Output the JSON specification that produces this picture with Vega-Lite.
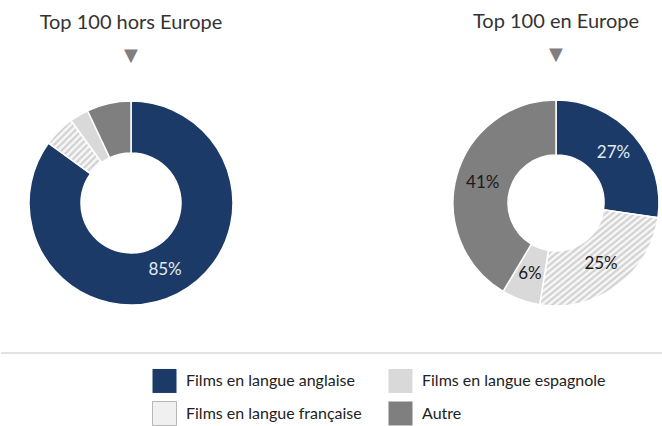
{
  "$schema": "https://vega.github.io/schema/vega-lite/v6.json",
  "padding": {"left": 0, "top": 12, "right": 0, "bottom": 0},
  "background": "white",
  "config": {"view": {"stroke": null}, "font": "Lato"},
  "datasets": {
    "hors": [
      {"langue": "Films en langue anglaise", "pct": 85, "ordre": 1, "label": "85%"},
      {"langue": "Films en langue française", "pct": 5, "ordre": 2, "label": ""},
      {"langue": "Films en langue espagnole", "pct": 3, "ordre": 3, "label": ""},
      {"langue": "Autre", "pct": 7, "ordre": 4, "label": ""}
    ],
    "en": [
      {"langue": "Films en langue anglaise", "pct": 27, "ordre": 1, "label": "27%"},
      {"langue": "Films en langue française", "pct": 25, "ordre": 2, "label": "25%"},
      {"langue": "Films en langue espagnole", "pct": 6, "ordre": 3, "label": "6%"},
      {"langue": "Autre", "pct": 41, "ordre": 4, "label": "41%"}
    ]
  },
  "spacing": 43,
  "vconcat": [
    {
      "spacing": 188,
      "hconcat": [
        {
          "width": 260,
          "height": 206,
          "data": {"name": "hors"},
          "title": {"text": "Top 100 hors Europe", "subtitle": "▼", "anchor": "middle", "font": "Lato", "fontSize": 20, "fontWeight": "normal", "color": "#333333", "subtitleFont": "DejaVu Sans", "subtitleFontSize": 18, "subtitleColor": "#7f7f7f", "subtitlePadding": 14, "offset": 33},
          "layer": [
            {
              "mark": {"type": "arc", "outerRadius": 102, "innerRadius": 50, "stroke": "white", "strokeWidth": 1.5},
              "encoding": {
                "theta": {"field": "pct", "type": "quantitative", "stack": true},
                "order": {"field": "ordre", "type": "quantitative"},
                "fill": {
                  "field": "langue",
                  "type": "nominal",
                  "scale": {"domain": ["Films en langue anglaise", "Films en langue française", "Films en langue espagnole", "Autre"], "range": ["#1b3a68", "#f0f0f0", "#d9d9d9", "#7f7f7f"]},
                  "condition": {
                    "test": "datum.langue === 'Films en langue française'",
                    "value": {"gradient": "linear", "x1": 0, "y1": 0, "x2": 1, "y2": 1, "stops": [
                      {"offset": 0, "color": "#ffffff"}, {"offset": 0.03125, "color": "#cccccc"}, {"offset": 0.0625, "color": "#ffffff"}, {"offset": 0.09375, "color": "#cccccc"},
                      {"offset": 0.125, "color": "#ffffff"}, {"offset": 0.15625, "color": "#cccccc"}, {"offset": 0.1875, "color": "#ffffff"}, {"offset": 0.21875, "color": "#cccccc"},
                      {"offset": 0.25, "color": "#ffffff"}, {"offset": 0.28125, "color": "#cccccc"}, {"offset": 0.3125, "color": "#ffffff"}, {"offset": 0.34375, "color": "#cccccc"},
                      {"offset": 0.375, "color": "#ffffff"}, {"offset": 0.40625, "color": "#cccccc"}, {"offset": 0.4375, "color": "#ffffff"}, {"offset": 0.46875, "color": "#cccccc"},
                      {"offset": 0.5, "color": "#ffffff"}, {"offset": 0.53125, "color": "#cccccc"}, {"offset": 0.5625, "color": "#ffffff"}, {"offset": 0.59375, "color": "#cccccc"},
                      {"offset": 0.625, "color": "#ffffff"}, {"offset": 0.65625, "color": "#cccccc"}, {"offset": 0.6875, "color": "#ffffff"}, {"offset": 0.71875, "color": "#cccccc"},
                      {"offset": 0.75, "color": "#ffffff"}, {"offset": 0.78125, "color": "#cccccc"}, {"offset": 0.8125, "color": "#ffffff"}, {"offset": 0.84375, "color": "#cccccc"},
                      {"offset": 0.875, "color": "#ffffff"}, {"offset": 0.90625, "color": "#cccccc"}, {"offset": 0.9375, "color": "#ffffff"}, {"offset": 0.96875, "color": "#cccccc"},
                      {"offset": 1, "color": "#ffffff"}
                    ]}
                  },
                  "legend": {
                    "orient": "none", "legendX": 151, "legendY": 268, "columns": 2, "title": null,
                    "symbolType": "square", "symbolSize": 576, "symbolStrokeWidth": 0.8,
                    "labelFont": "Lato", "labelFontSize": 16, "labelColor": "#222222", "labelOffset": 9, "labelLimit": 300,
                    "columnPadding": 24, "rowPadding": 4,
                    "encoding": {
                      "symbols": {
                        "fill": {
                          "condition": [
                            {"test": "indexof(datum.value, 'fran') >= 0", "value": {"gradient": "linear", "x1": 0, "y1": 0, "x2": 1, "y2": 1, "stops": [
                              {"offset": 0, "color": "#ffffff"}, {"offset": 0.0833, "color": "#c4c4c4"}, {"offset": 0.1667, "color": "#ffffff"}, {"offset": 0.25, "color": "#c4c4c4"},
                              {"offset": 0.3333, "color": "#ffffff"}, {"offset": 0.4167, "color": "#c4c4c4"}, {"offset": 0.5, "color": "#ffffff"}, {"offset": 0.5833, "color": "#c4c4c4"},
                              {"offset": 0.6667, "color": "#ffffff"}, {"offset": 0.75, "color": "#c4c4c4"}, {"offset": 0.8333, "color": "#ffffff"}, {"offset": 0.9167, "color": "#c4c4c4"},
                              {"offset": 1, "color": "#ffffff"}
                            ]}},
                            {"test": "indexof(datum.value, 'anglaise') >= 0", "value": "#1b3a68"},
                            {"test": "indexof(datum.value, 'espagnole') >= 0", "value": "#d9d9d9"}
                          ],
                          "value": "#7f7f7f"
                        },
                        "stroke": {
                          "condition": {"test": "indexof(datum.value, 'fran') >= 0", "value": "#a6a6a6"},
                          "value": "transparent"
                        },
                        "opacity": {"value": 1}
                      }
                    }
                  }
                }
              }
            },
            {
              "mark": {"type": "text", "radius": 75, "font": "Lato", "fontSize": 17},
              "encoding": {
                "theta": {"field": "pct", "type": "quantitative", "stack": true},
                "order": {"field": "ordre", "type": "quantitative"},
                "detail": {"field": "langue", "type": "nominal"},
                "text": {"field": "label", "type": "nominal"},
                "color": {"condition": {"test": "datum.langue === 'Films en langue anglaise'", "value": "#e3eaf3"}, "value": "#1a1a1a"}
              }
            }
          ]
        },
        {
          "width": 214,
          "height": 206,
          "data": {"name": "en"},
          "title": {"text": "Top 100 en Europe", "subtitle": "▼", "anchor": "middle", "font": "Lato", "fontSize": 20, "fontWeight": "normal", "color": "#333333", "subtitleFont": "DejaVu Sans", "subtitleFontSize": 18, "subtitleColor": "#7f7f7f", "subtitlePadding": 14, "offset": 33},
          "layer": [
            {
              "mark": {"type": "arc", "outerRadius": 103, "innerRadius": 48, "stroke": "white", "strokeWidth": 1.5},
              "encoding": {
                "theta": {"field": "pct", "type": "quantitative", "stack": true},
                "order": {"field": "ordre", "type": "quantitative"},
                "fill": {
                  "field": "langue",
                  "type": "nominal",
                  "scale": {"domain": ["Films en langue anglaise", "Films en langue française", "Films en langue espagnole", "Autre"], "range": ["#1b3a68", "#f0f0f0", "#d9d9d9", "#7f7f7f"]},
                  "condition": {
                    "test": "datum.langue === 'Films en langue française'",
                    "value": {"gradient": "linear", "x1": 0, "y1": 0, "x2": 1, "y2": 1, "stops": [
                      {"offset": 0, "color": "#ffffff"}, {"offset": 0.015625, "color": "#cccccc"}, {"offset": 0.03125, "color": "#ffffff"}, {"offset": 0.046875, "color": "#cccccc"},
                      {"offset": 0.0625, "color": "#ffffff"}, {"offset": 0.078125, "color": "#cccccc"}, {"offset": 0.09375, "color": "#ffffff"}, {"offset": 0.109375, "color": "#cccccc"},
                      {"offset": 0.125, "color": "#ffffff"}, {"offset": 0.140625, "color": "#cccccc"}, {"offset": 0.15625, "color": "#ffffff"}, {"offset": 0.171875, "color": "#cccccc"},
                      {"offset": 0.1875, "color": "#ffffff"}, {"offset": 0.203125, "color": "#cccccc"}, {"offset": 0.21875, "color": "#ffffff"}, {"offset": 0.234375, "color": "#cccccc"},
                      {"offset": 0.25, "color": "#ffffff"}, {"offset": 0.265625, "color": "#cccccc"}, {"offset": 0.28125, "color": "#ffffff"}, {"offset": 0.296875, "color": "#cccccc"},
                      {"offset": 0.3125, "color": "#ffffff"}, {"offset": 0.328125, "color": "#cccccc"}, {"offset": 0.34375, "color": "#ffffff"}, {"offset": 0.359375, "color": "#cccccc"},
                      {"offset": 0.375, "color": "#ffffff"}, {"offset": 0.390625, "color": "#cccccc"}, {"offset": 0.40625, "color": "#ffffff"}, {"offset": 0.421875, "color": "#cccccc"},
                      {"offset": 0.4375, "color": "#ffffff"}, {"offset": 0.453125, "color": "#cccccc"}, {"offset": 0.46875, "color": "#ffffff"}, {"offset": 0.484375, "color": "#cccccc"},
                      {"offset": 0.5, "color": "#ffffff"}, {"offset": 0.515625, "color": "#cccccc"}, {"offset": 0.53125, "color": "#ffffff"}, {"offset": 0.546875, "color": "#cccccc"},
                      {"offset": 0.5625, "color": "#ffffff"}, {"offset": 0.578125, "color": "#cccccc"}, {"offset": 0.59375, "color": "#ffffff"}, {"offset": 0.609375, "color": "#cccccc"},
                      {"offset": 0.625, "color": "#ffffff"}, {"offset": 0.640625, "color": "#cccccc"}, {"offset": 0.65625, "color": "#ffffff"}, {"offset": 0.671875, "color": "#cccccc"},
                      {"offset": 0.6875, "color": "#ffffff"}, {"offset": 0.703125, "color": "#cccccc"}, {"offset": 0.71875, "color": "#ffffff"}, {"offset": 0.734375, "color": "#cccccc"},
                      {"offset": 0.75, "color": "#ffffff"}, {"offset": 0.765625, "color": "#cccccc"}, {"offset": 0.78125, "color": "#ffffff"}, {"offset": 0.796875, "color": "#cccccc"},
                      {"offset": 0.8125, "color": "#ffffff"}, {"offset": 0.828125, "color": "#cccccc"}, {"offset": 0.84375, "color": "#ffffff"}, {"offset": 0.859375, "color": "#cccccc"},
                      {"offset": 0.875, "color": "#ffffff"}, {"offset": 0.890625, "color": "#cccccc"}, {"offset": 0.90625, "color": "#ffffff"}, {"offset": 0.921875, "color": "#cccccc"},
                      {"offset": 0.9375, "color": "#ffffff"}, {"offset": 0.953125, "color": "#cccccc"}, {"offset": 0.96875, "color": "#ffffff"}, {"offset": 0.984375, "color": "#cccccc"},
                      {"offset": 1, "color": "#ffffff"}
                    ]}
                  },
                  "legend": {
                    "orient": "none", "legendX": 151, "legendY": 268, "columns": 2, "title": null,
                    "symbolType": "square", "symbolSize": 576, "symbolStrokeWidth": 0.8,
                    "labelFont": "Lato", "labelFontSize": 16, "labelColor": "#222222", "labelOffset": 9, "labelLimit": 300,
                    "columnPadding": 24, "rowPadding": 4,
                    "encoding": {
                      "symbols": {
                        "fill": {
                          "condition": [
                            {"test": "indexof(datum.value, 'fran') >= 0", "value": {"gradient": "linear", "x1": 0, "y1": 0, "x2": 1, "y2": 1, "stops": [
                              {"offset": 0, "color": "#ffffff"}, {"offset": 0.0833, "color": "#c4c4c4"}, {"offset": 0.1667, "color": "#ffffff"}, {"offset": 0.25, "color": "#c4c4c4"},
                              {"offset": 0.3333, "color": "#ffffff"}, {"offset": 0.4167, "color": "#c4c4c4"}, {"offset": 0.5, "color": "#ffffff"}, {"offset": 0.5833, "color": "#c4c4c4"},
                              {"offset": 0.6667, "color": "#ffffff"}, {"offset": 0.75, "color": "#c4c4c4"}, {"offset": 0.8333, "color": "#ffffff"}, {"offset": 0.9167, "color": "#c4c4c4"},
                              {"offset": 1, "color": "#ffffff"}
                            ]}},
                            {"test": "indexof(datum.value, 'anglaise') >= 0", "value": "#1b3a68"},
                            {"test": "indexof(datum.value, 'espagnole') >= 0", "value": "#d9d9d9"}
                          ],
                          "value": "#7f7f7f"
                        },
                        "stroke": {
                          "condition": {"test": "indexof(datum.value, 'fran') >= 0", "value": "#a6a6a6"},
                          "value": "transparent"
                        },
                        "opacity": {"value": 1}
                      }
                    }
                  }
                }
              }
            },
            {
              "mark": {"type": "text", "radius": 76, "font": "Lato", "fontSize": 17},
              "encoding": {
                "theta": {"field": "pct", "type": "quantitative", "stack": true},
                "order": {"field": "ordre", "type": "quantitative"},
                "detail": {"field": "langue", "type": "nominal"},
                "text": {"field": "label", "type": "nominal"},
                "color": {"condition": {"test": "datum.langue === 'Films en langue anglaise'", "value": "#e3eaf3"}, "value": "#1a1a1a"}
              }
            }
          ]
        }
      ]
    },
    {
      "width": 662,
      "height": 1,
      "data": {"values": [{}]},
      "mark": {"type": "rule", "color": "#d9d9d9", "strokeWidth": 1.5},
      "encoding": {"y": {"datum": 0, "type": "quantitative", "scale": {"domain": [0, 1]}, "axis": null}}
    }
  ]
}
